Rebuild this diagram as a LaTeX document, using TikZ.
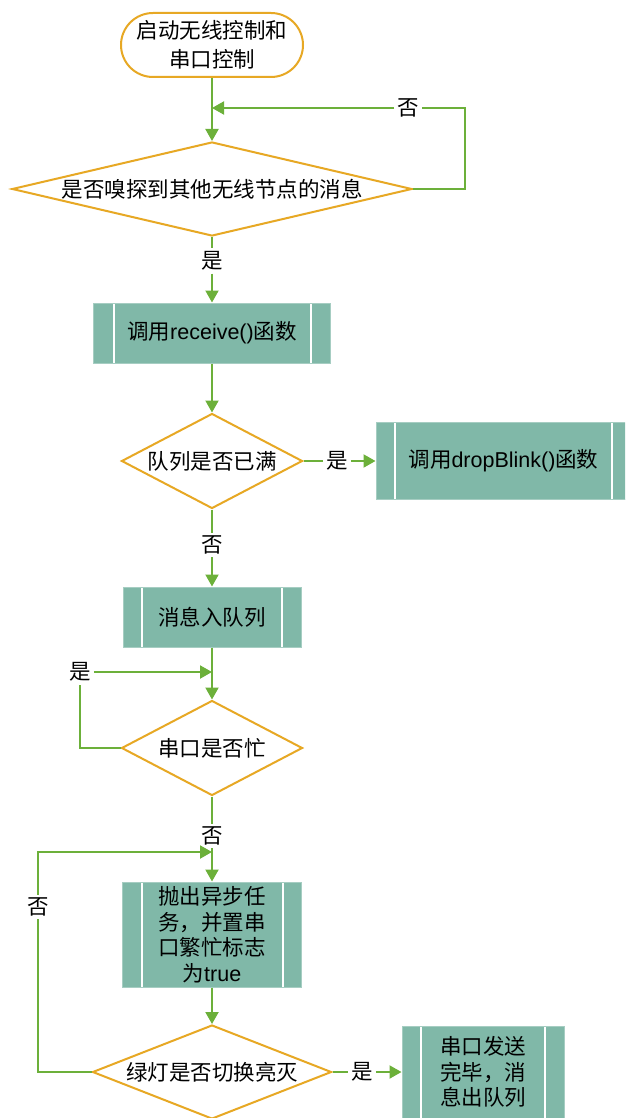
\documentclass[tikz,border=0pt]{standalone}
\usepackage{fontspec}
\setmainfont{Noto Sans CJK SC}
\newfontfamily\latf{Liberation Sans}
\usetikzlibrary{shapes.geometric,arrows.meta}
\definecolor{lgreen}{RGB}{108,176,58}
\definecolor{dorange}{RGB}{231,168,36}
\definecolor{tealbox}{RGB}{128,184,168}
\tikzset{
  txt/.style={font=\fontsize{21.5}{25.5}\selectfont},
  term/.style={txt, draw=dorange, line width=2pt, fill=white, rounded corners=32pt,
    minimum width=182pt, minimum height=64pt, align=center, inner sep=0pt,
    font=\fontsize{21.5}{29}\selectfont},
  dec/.style={txt, diamond, draw=dorange, line width=2pt, fill=white, inner sep=0pt},
  proc/.style={txt, draw=tealbox!70!white, fill=tealbox, line width=1pt, inner sep=0pt, align=center,
    path picture={\draw[white,line width=2pt]
      ([xshift=#1]path picture bounding box.north west) -- ([xshift=#1]path picture bounding box.south west)
      ([xshift=-#1]path picture bounding box.north east) -- ([xshift=-#1]path picture bounding box.south east);}},
  proc/.default=20pt,
  lbl/.style={txt, fill=white, inner sep=3pt},
  flow/.style={draw=lgreen, line width=2pt},
  arr/.style={flow, -{Triangle[length=12pt,width=13pt]}}
}
\begin{document}
\begin{tikzpicture}[x=1pt,y=-1pt]
\fill[white] (0,0) rectangle (625,1118);
\clip (0,0) rectangle (625,1118);
% nodes
\node[term] (start) at (212,45) {启动无线控制和\\串口控制};
\node[dec, minimum width=400pt, minimum height=94pt, shape aspect=4.26] (d1) at (212,189) {是否嗅探到其他无线节点的消息};
\node[proc, minimum width=237pt, minimum height=60pt] (b1) at (212,333) {调用{\latf receive()}函数};
\node[dec, minimum width=181pt, minimum height=95pt, shape aspect=1.9] (d2) at (212,461) {队列是否已满};
\node[proc=19pt, minimum width=255pt, minimum height=77pt] (b2) at (503.5,461) {调用{\latf dropBlink()}函数};
\node[proc=19pt, minimum width=178pt, minimum height=60pt] (b3) at (212,617) {消息入队列};
\node[dec, minimum width=181pt, minimum height=95pt, shape aspect=1.9] (d3) at (212,748) {串口是否忙};
\node[proc=19pt, minimum width=179pt, minimum height=105pt] (b4) at (212,934.5) {抛出异步任\\务，并置串\\口繁忙标志\\为{\latf true}};
\node[dec, minimum width=239pt, minimum height=94pt, shape aspect=2.54] (d4) at (212,1072) {绿灯是否切换亮灭};
\node[proc=19pt, minimum width=162pt, minimum height=92pt] (b5) at (483,1072) {串口发送\\完毕，消\\息出队列};
% labels
\node[lbl] (l0) at (408,108) {否};
\node[lbl] (l1) at (212,261) {是};
\node[lbl] (l2) at (337,461) {是};
\node[lbl] (l3) at (212,545) {否};
\node[lbl] (l4) at (80,672) {是};
\node[lbl] (l5) at (212,836) {否};
\node[lbl] (l6) at (38,907) {否};
\node[lbl] (l7) at (362,1072) {是};
\coordinate (j1) at (212,108);
\coordinate (j3) at (212,672);
\coordinate (j5) at (212,852);
% connectors
\draw[arr] (start) -- (d1);
\draw[flow] (d1.east) -| (465,108) -- (l0);
\draw[arr] (l0) -- (j1);
\draw[flow] (d1) -- (l1);
\draw[arr] (l1) -- (b1);
\draw[arr] (b1) -- (d2);
\draw[flow] (d2) -- (l2);
\draw[arr] (l2) -- (b2);
\draw[flow] (d2) -- (l3);
\draw[arr] (l3) -- (b3);
\draw[arr] (b3) -- (d3);
\draw[flow] (d3.west) -| (l4);
\draw[arr] (l4) -- (j3);
\draw[flow] (d3) -- (l5);
\draw[arr] (l5) -- (b4);
\draw[arr] (b4) -- (d4);
\draw[flow] (d4.west) -| (l6);
\draw[arr] (l6) |- (j5);
\draw[flow] (d4) -- (l7);
\draw[arr] (l7) -- (b5);
\end{tikzpicture}
\end{document}
